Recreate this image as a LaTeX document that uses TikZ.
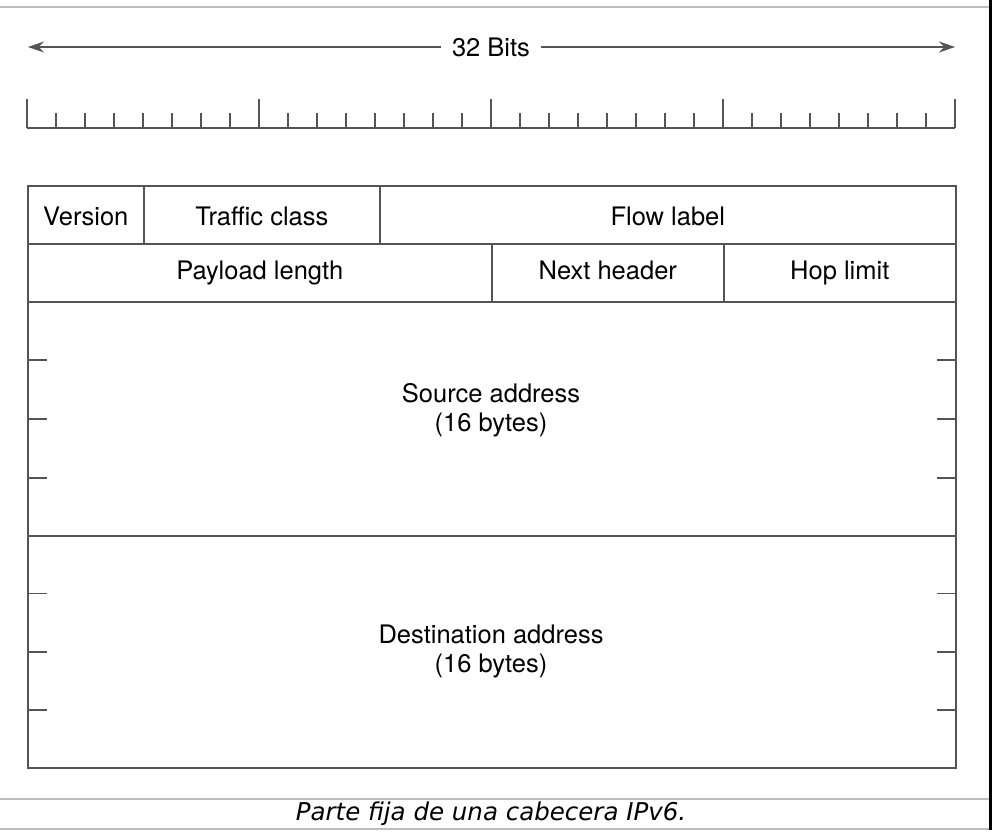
\documentclass[tikz,border=0pt]{standalone}
\usepackage{fontspec}
\setmainfont{TeX Gyre Heros}
\newfontfamily\capfont{DejaVu Sans}
\usetikzlibrary{positioning,calc,arrows.meta}
\definecolor{inkgray}{HTML}{555555}
\definecolor{rulegray}{HTML}{BDBDBD}

\begin{document}
\begin{tikzpicture}[x=1pt, y=-1pt, >={Stealth[length=16pt, width=11pt]}, wire/.style={draw=inkgray, line width=1.6pt}, field/.style={rectangle, draw=inkgray, line width=1.6pt, anchor=north west, minimum height=58pt, inner sep=0pt, text height=18pt, text depth=5pt, font=\fontsize{25.5}{29}\selectfont}, toprow/.style={field, text height=26pt}, block/.style={field, text height=, text depth=, minimum height=234pt, minimum width=928pt}, label/.style={align=center, font=\fontsize{25.5}{29}\selectfont}, frame/.style={draw=rulegray, line width=2pt}]

\useasboundingbox (0,0) rectangle (1004,834);

% page frame
\draw[frame] (0,7) -- (989,7);
\draw[frame] (0,799) -- (989,799);
\draw[frame] (0,829) -- (989,829);
\draw[black, line width=3pt] (990.5,0) -- (990.5,830);

% 32 bit width
\node[font=\fontsize{25.5}{29}\selectfont, inner xsep=11pt] (bits) at (491,47) {32 Bits};
\coordinate (lend) at (28,47);
\coordinate (rend) at (955,47);
\draw[wire, ->] (bits.west) -- (lend);
\draw[wire, ->] (bits.east) -- (rend);

% ruler
\draw[wire] (27,128) -- (955,128);
\foreach \i in {0,...,32} {
  \pgfmathsetmacro\len{mod(\i,8)==0 ? 29 : 15}
  \draw[wire] (27+29*\i,128) -- ++(0,-\len);
}

% header fields
\node[toprow, minimum width=116pt] (ver) at (27,185) {Version};
\node[toprow, minimum width=236pt] (tc) at (143,185) {Traffic class};
\node[toprow, minimum width=576pt] (fl) at (379,185) {Flow label};
\node[field, minimum width=464pt] (pl) at (27,243) {Payload length};
\node[field, minimum width=232pt] (nh) at (491,243) {Next header};
\node[field, minimum width=232pt] (hl) at (723,243) {Hop limit};
\node[block] (src) at (27,301) {};
\node[block, minimum height=232pt] (dst) at (27,535) {};
\node[label] (srctxt) at (491,410) {Source address\\(16 bytes)};
\node[label] (dsttxt) at (491,651) {Destination address\\(16 bytes)};

\foreach \blk in {src,dst}
  \foreach \k in {1,2,3} {
    \draw[wire] ($(\blk.north west)!\k/4!(\blk.south west)$) -- ++(20,0);
    \draw[wire] ($(\blk.north east)!\k/4!(\blk.south east)$) -- ++(-20,0);
  }

% caption
\node[font=\capfont\itshape\fontsize{24.5}{30}\selectfont] (cap) at (491,814) {Parte fija de una cabecera IPv6.};
\end{tikzpicture}
\end{document}
